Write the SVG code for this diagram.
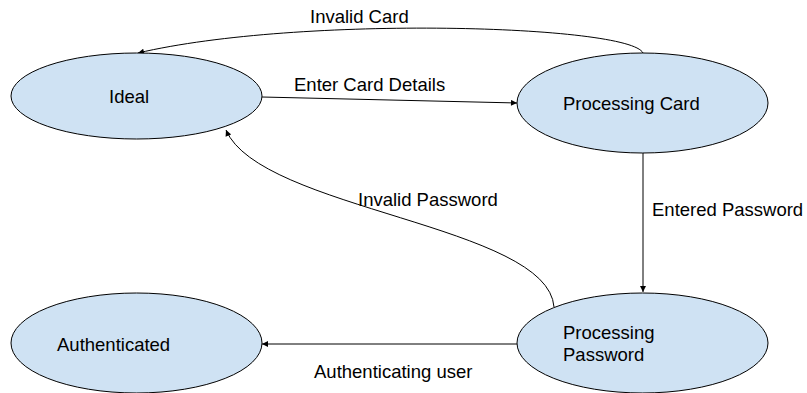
<svg xmlns="http://www.w3.org/2000/svg" width="807" height="393" viewBox="0 0 807 393">
  <style>
    .state { fill: #cfe2f3; stroke: #000000; stroke-width: 1; }
    .label { font-family: "Liberation Sans", Arial, sans-serif; font-size: 18.5px; fill: #000000; }
    .edge { fill: none; stroke: #000000; stroke-width: 1; marker-end: url(#arrow); }
  </style>
  <defs>
    <marker id="arrow" viewBox="0 0 10 10" refX="10" refY="5" markerWidth="7" markerHeight="6" markerUnits="userSpaceOnUse" orient="auto">
      <path d="M0,0 L10,5 L0,10 Z" fill="#000000"/>
    </marker>
  </defs>
  <rect width="807" height="393" fill="#ffffff"/>

  <!-- transitions -->
  <g id="connectors">
    <path class="edge" d="M643,53 C630,25 300,15 138,53"/>
    <path class="edge" d="M262,97 L517,103"/>
    <path class="edge" d="M643,153 L643,292"/>
    <path class="edge" d="M517,344 L262,344"/>
    <path class="edge" d="M554,307 C548,225 260,210 226,130"/>
    <text class="label" x="310" y="23">Invalid Card</text>
    <text class="label" x="294" y="91">Enter Card Details</text>
    <text class="label" x="652" y="216">Entered Password</text>
    <text class="label" x="358" y="206">Invalid Password</text>
    <text class="label" x="314" y="378">Authenticating user</text>
  </g>

  <!-- states -->
  <g id="ideal">
    <ellipse class="state" cx="136.5" cy="96" rx="125.5" ry="43"/>
    <text class="label" x="109" y="103">Ideal</text>
  </g>
  <g id="processing-card">
    <ellipse class="state" cx="642.5" cy="103" rx="125.5" ry="50"/>
    <text class="label" x="563" y="110">Processing Card</text>
  </g>
  <g id="processing-password">
    <ellipse class="state" cx="642.5" cy="343" rx="125.5" ry="50"/>
    <text class="label" x="563" y="339">Processing</text>
    <text class="label" x="563" y="361">Password</text>
  </g>
  <g id="authenticated">
    <ellipse class="state" cx="136.5" cy="343" rx="125.5" ry="50"/>
    <text class="label" x="57" y="351">Authenticated</text>
  </g>
</svg>
